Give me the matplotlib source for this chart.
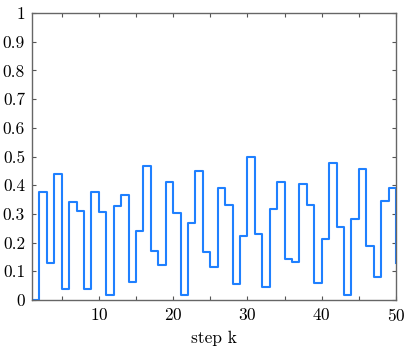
import matplotlib
matplotlib.use("Agg")
import matplotlib.pyplot as plt
import numpy as np

# step values u(k), k = 1..50
k = np.arange(1, 51)
u = [0.0, 0.376, 0.128, 0.44, 0.039, 0.34, 0.309, 0.04, 0.375, 0.306,
     0.017, 0.329, 0.366, 0.064, 0.241, 0.467, 0.172, 0.122, 0.412, 0.302,
     0.018, 0.269, 0.45, 0.168, 0.114, 0.391, 0.331, 0.056, 0.223, 0.497,
     0.23, 0.046, 0.317, 0.412, 0.142, 0.132, 0.404, 0.33, 0.06, 0.211,
     0.478, 0.255, 0.016, 0.281, 0.455, 0.189, 0.081, 0.346, 0.391, 0.13]

xticks = [10, 20, 30, 40, 50]
yticks = [0, 0.1, 0.2, 0.3, 0.4, 0.5, 0.6, 0.7, 0.8, 0.9, 1]
ytick_labels = ["0", "0.1", "0.2", "0.3", "0.4", "0.5", "0.6", "0.7", "0.8", "0.9", "1"]

plt.rcParams['font.family'] = ['cmr10', 'DejaVu Serif']
plt.rcParams['axes.formatter.use_mathtext'] = True

fig = plt.figure(figsize=(4.07, 3.49), dpi=100)
ax = fig.add_axes([32 / 407, 49 / 349, 364 / 407, 287 / 349])

ax.step(k, u, where='post', color='#1f80ff', lw=1.5)

ax.set_xlim(1, 50)
ax.set_ylim(0, 1)
ax.set_xticks(xticks)
ax.set_xticks([5, 15, 25, 35, 45], minor=True)
ax.set_yticks(yticks)
ax.set_yticklabels(ytick_labels)

for s in ax.spines.values():
    s.set_color('#666666')
    s.set_linewidth(1.0)
ax.tick_params(which='both', direction='in', top=True, right=True,
               length=3, width=0.8, color='#555555', labelsize=12.5, pad=5)
ax.set_xlabel('step k', fontsize=12.5, labelpad=5)

fig.savefig('out.png', dpi=100)
